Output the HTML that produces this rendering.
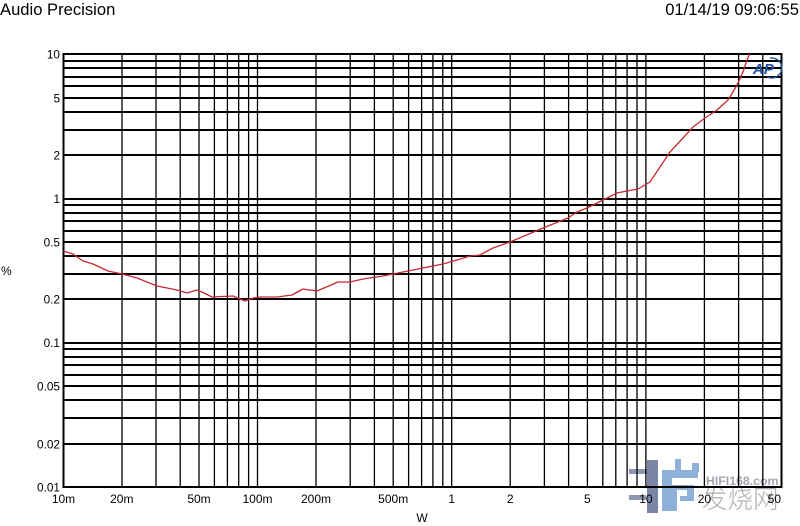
<!DOCTYPE html>
<html>
<head>
<meta charset="utf-8">
<style>
  html, body { margin:0; padding:0; background:#fff; }
  body { width:800px; height:526px; overflow:hidden; }
  svg { display:block; }
  text { font-family: "Liberation Sans", Arial, sans-serif; fill:#000; }
</style>
</head>
<body>
<svg width="800" height="526" viewBox="0 0 800 526" xmlns="http://www.w3.org/2000/svg">
  <defs>
    <clipPath id="plot"><rect x="63" y="54" width="719" height="433"/></clipPath>
  </defs>
  <rect x="0" y="0" width="800" height="526" fill="#fff"/>

  <!-- watermark (under everything) -->
  <g>
    <rect x="629" y="469" width="19" height="5" fill="#8d97b0"/>
    <rect x="629" y="495" width="17" height="5" fill="#8d97b0"/>
    <rect x="647" y="460" width="11" height="53" fill="#7b86a6"/>
    <g fill="#8fb1d9">
      <rect x="662" y="470" width="10" height="41"/>
      <rect x="662" y="470" width="36" height="8"/>
      <rect x="675" y="459" width="6" height="11"/>
      <rect x="692" y="463" width="7" height="9"/>
      <rect x="672" y="485" width="22" height="5"/>
      <rect x="687" y="485" width="7" height="15"/>
      <rect x="680" y="496" width="14" height="5"/>
      <rect x="672" y="490" width="5" height="21"/>
    </g>
    <text x="706" y="485" font-size="12.3" font-weight="bold" style="fill:#a3a6b0">HIFI168.com</text>
    <text x="702" y="508" font-size="25.5" style="fill:#aeb0b6; font-family:'Liberation Sans','Noto Sans CJK SC',sans-serif; font-weight:300">发烧网</text>
  </g>

  <!-- header -->
  <text x="0" y="15" font-size="16.6">Audio Precision</text>
  <text x="799" y="15" font-size="16.6" text-anchor="end">01/14/19 09:06:55</text>

  <!-- horizontal gridlines -->
  <g stroke="#000" stroke-width="2" shape-rendering="crispEdges">
    <line x1="63" x2="782" y1="54" y2="54"/>
    <line x1="63" x2="782" y1="61" y2="61"/>
    <line x1="63" x2="782" y1="68" y2="68"/>
    <line x1="63" x2="782" y1="77" y2="77"/>
    <line x1="63" x2="782" y1="86" y2="86"/>
    <line x1="63" x2="782" y1="98" y2="98"/>
    <line x1="63" x2="782" y1="112" y2="112"/>
    <line x1="63" x2="782" y1="130" y2="130"/>
    <line x1="63" x2="782" y1="155" y2="155"/>
    <line x1="63" x2="782" y1="199" y2="199"/>
    <line x1="63" x2="782" y1="205" y2="205"/>
    <line x1="63" x2="782" y1="213" y2="213"/>
    <line x1="63" x2="782" y1="221" y2="221"/>
    <line x1="63" x2="782" y1="231" y2="231"/>
    <line x1="63" x2="782" y1="242" y2="242"/>
    <line x1="63" x2="782" y1="256" y2="256"/>
    <line x1="63" x2="782" y1="274" y2="274"/>
    <line x1="63" x2="782" y1="299" y2="299"/>
    <line x1="63" x2="782" y1="343" y2="343"/>
    <line x1="63" x2="782" y1="349" y2="349"/>
    <line x1="63" x2="782" y1="357" y2="357"/>
    <line x1="63" x2="782" y1="365" y2="365"/>
    <line x1="63" x2="782" y1="375" y2="375"/>
    <line x1="63" x2="782" y1="386" y2="386"/>
    <line x1="63" x2="782" y1="400" y2="400"/>
    <line x1="63" x2="782" y1="418" y2="418"/>
    <line x1="63" x2="782" y1="444" y2="444"/>
    <line x1="63" x2="782" y1="487" y2="487"/>
  </g>

  <!-- vertical gridlines -->
  <g stroke="#000" stroke-width="1.3">
    <line y1="54" y2="487" x1="122" x2="122"/>
    <line y1="54" y2="487" x1="156" x2="156"/>
    <line y1="54" y2="487" x1="180.2" x2="180.2"/>
    <line y1="54" y2="487" x1="199" x2="199"/>
    <line y1="54" y2="487" x1="214.4" x2="214.4"/>
    <line y1="54" y2="487" x1="227.4" x2="227.4"/>
    <line y1="54" y2="487" x1="238.7" x2="238.7"/>
    <line y1="54" y2="487" x1="248.6" x2="248.6"/>
    <line y1="54" y2="487" x1="257.5" x2="257.5"/>
    <line y1="54" y2="487" x1="316" x2="316"/>
    <line y1="54" y2="487" x1="350.2" x2="350.2"/>
    <line y1="54" y2="487" x1="374.4" x2="374.4"/>
    <line y1="54" y2="487" x1="393.2" x2="393.2"/>
    <line y1="54" y2="487" x1="408.6" x2="408.6"/>
    <line y1="54" y2="487" x1="421.6" x2="421.6"/>
    <line y1="54" y2="487" x1="432.9" x2="432.9"/>
    <line y1="54" y2="487" x1="442.8" x2="442.8"/>
    <line y1="54" y2="487" x1="451.7" x2="451.7"/>
    <line y1="54" y2="487" x1="510.2" x2="510.2"/>
    <line y1="54" y2="487" x1="544.4" x2="544.4"/>
    <line y1="54" y2="487" x1="568.6" x2="568.6"/>
    <line y1="54" y2="487" x1="587.4" x2="587.4"/>
    <line y1="54" y2="487" x1="602.8" x2="602.8"/>
    <line y1="54" y2="487" x1="615.8" x2="615.8"/>
    <line y1="54" y2="487" x1="627.1" x2="627.1"/>
    <line y1="54" y2="487" x1="637" x2="637"/>
    <line y1="54" y2="487" x1="645.9" x2="645.9"/>
    <line y1="54" y2="487" x1="704.4" x2="704.4"/>
    <line y1="54" y2="487" x1="738.6" x2="738.6"/>
    <line y1="54" y2="487" x1="762.8" x2="762.8"/>
  </g>
  <!-- border -->
  <rect x="63.5" y="54" width="718" height="433" fill="none" stroke="#000" stroke-width="2"/>

  <!-- y labels -->
  <g font-size="11.8" text-anchor="end">
    <text x="60" y="58.5">10</text>
    <text x="60" y="102.5">5</text>
    <text x="60" y="159.5">2</text>
    <text x="60" y="203">1</text>
    <text x="60" y="246.5">0.5</text>
    <text x="60" y="303.5">0.2</text>
    <text x="60" y="347">0.1</text>
    <text x="60" y="390.5">0.05</text>
    <text x="60" y="448.5">0.02</text>
    <text x="60" y="491.5">0.01</text>
  </g>
  <text x="1" y="275" font-size="12">%</text>

  <!-- x labels -->
  <g font-size="12" text-anchor="middle">
    <text x="63.5" y="503">10m</text>
    <text x="121.8" y="503">20m</text>
    <text x="199" y="503">50m</text>
    <text x="257.5" y="503">100m</text>
    <text x="316" y="503">200m</text>
    <text x="393.2" y="503">500m</text>
    <text x="451.7" y="503">1</text>
    <text x="510.2" y="503">2</text>
    <text x="587.4" y="503">5</text>
    <text x="645.9" y="503">10</text>
    <text x="704.4" y="503">20</text>
    <text x="781" y="503" text-anchor="end">50</text>
  </g>
  <text x="422" y="522" font-size="12" text-anchor="middle">W</text>

  <!-- curve -->
  <polyline clip-path="url(#plot)" fill="none" stroke="#c42a32" stroke-width="1.3" stroke-linejoin="round"
    points="63.3,251 73,254 83,261 93,264 108,271 122,274 137,278 157,286 177,290 187,293 197,290 202,292 212,297 233,296 240,299 245,301 253,298 260,297 277,297 292,295 303,289 317,291 338,282 350,282 363,279 383,276 403,272 423,268 443,264 457,260 470,256 480,255 493,248 510,242 543,228 568,218 577,212 587,208 603,200 617,193 627,191 638,189 650,182 660,167 670,152 683,138 693,127 705,118 717,110 728,100 733,92 738,83 743,72 747,60 750,53 752,48"/>

  <!-- AP logo -->
  <g fill="none" stroke="#1f4f9f" stroke-width="1.4">
    <path d="M770,58 A10.5,10 0 1 1 767,77"/>
  </g>
  <text x="753" y="74" font-size="15" font-style="italic" font-weight="bold" style="fill:#1f4f9f">AP</text>
</svg>
</body>
</html>
